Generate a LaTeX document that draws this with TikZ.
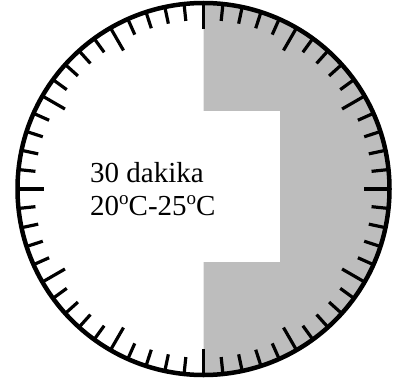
\documentclass[tikz,border=0pt]{standalone}
\usepackage{fontspec}
\setmainfont{Liberation Serif}
\usetikzlibrary{calc}
\definecolor{dialgray}{RGB}{189,189,189}
\tikzset{
  rim/.style={line width=4.5pt},
  tickmark/.style={line width=3.2pt},
  label/.style={inner sep=0pt, font=\fontsize{29}{33}\selectfont, text=black}
}
\newcommand{\degsym}{\raisebox{0.36em}{\fontsize{19}{19}\selectfont o}}
\begin{document}
\begin{tikzpicture}[x=1pt,y=-1pt]
\useasboundingbox (0,0) rectangle (401,388);
\coordinate (c) at (203.5,189);
\begin{scope}
  \clip (203.5,0) rectangle (401,388);
  \fill[dialgray] (c) circle[radius=186];
\end{scope}
\foreach \i in {0,...,59}{
  \pgfmathsetmacro{\r}{ifthenelse(mod(\i,5)==0,160,169)}
  \draw[tickmark] ($(c)+(\i*6:186)$) -- ($(c)+(\i*6:\r)$);
}
\draw[rim] (c) circle[radius=186];
\fill[white] (70,111) rectangle (280,262);
\node[label, anchor=base west] (t1) at (90,182) {30 dakika};
\node[label, anchor=base west] (t2) at (90,215) {20\degsym C-25\degsym C};
\end{tikzpicture}
\end{document}
